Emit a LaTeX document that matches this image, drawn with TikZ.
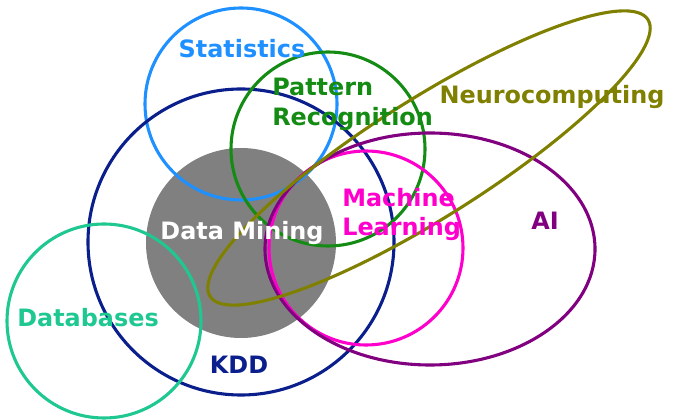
\documentclass[tikz,border=0pt]{standalone}
\usepackage{fontspec}
\setmainfont{DejaVu Sans}
\usetikzlibrary{positioning}
\definecolor{statblue}{RGB}{30,144,255}
\definecolor{kddblue}{RGB}{10,30,140}
\definecolor{prgreen}{RGB}{20,140,20}
\definecolor{neuroolive}{RGB}{128,128,0}
\definecolor{mlpink}{RGB}{255,0,204}
\definecolor{aipurple}{RGB}{128,0,128}
\definecolor{dbteal}{RGB}{32,200,145}

\begin{document}
\begin{tikzpicture}[
  x=0.025cm, y=0.025cm,
  font=\bfseries\fontsize{17}{21}\selectfont,
  ring/.style={line width=2.2pt},
  lbl/.style={inner sep=0pt, align=left},
  oneline/.style={lbl, text height=12.4pt, text depth=0pt}]

\useasboundingbox (0,0) rectangle (683,420);

% data mining disc
\fill[gray] (241,177) circle (95);

% the fields
\foreach \x/\y/\r/\c in {241/316/96/statblue, 241/178/153/kddblue, 104/99/97/dbteal,
                         328/271/97/prgreen, 366/172/97/mlpink} {
  \draw[ring, \c] (\x,\y) circle (\r);
}
\draw[ring, aipurple] (430,171) ellipse [x radius=165, y radius=116];
\draw[ring, neuroolive, rotate around={32.3:(429,262)}] (429,262) ellipse [x radius=259, y radius=59];

\node[oneline, statblue] (stat) at (242,371) {Statistics};
\node[lbl, prgreen, anchor=west] (patrec) at (272,315.5) {Pattern\\Recognition};
\node[oneline, neuroolive] (neuro) at (552,325) {Neurocomputing};
\node[lbl, mlpink, anchor=west] (mlearn) at (342,205.5) {Machine\\Learning};
\node[oneline, white] (dmine) at (242,189) {Data Mining};
\node[oneline, aipurple] (ai) at (545,199) {AI};
\node[oneline, dbteal] (dbase) at (88,102) {Databases};
\node[oneline, kddblue] (kdd) at (239,55) {KDD};

\end{tikzpicture}
\end{document}
